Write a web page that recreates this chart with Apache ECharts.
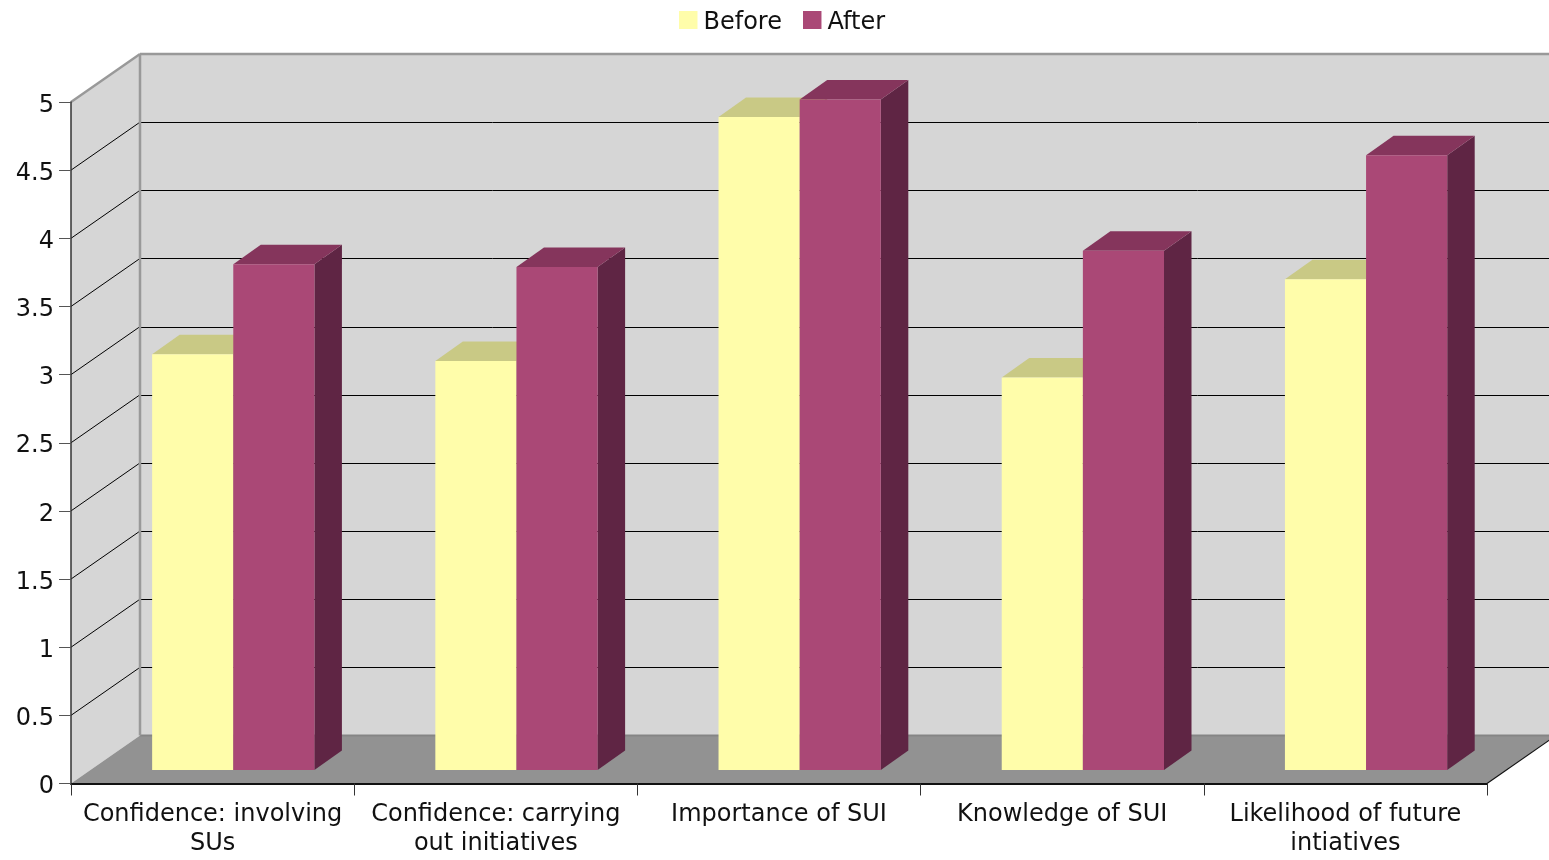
<!DOCTYPE html>
<html>
<head>
<meta charset="utf-8">
<style>html,body{margin:0;padding:0;background:#fff}#chart{width:1549px;height:860px}</style>
<script src="https://cdn.jsdelivr.net/npm/echarts@6/dist/echarts.min.js"></script>
</head>
<body>
<div id="chart"></div>
<script>
// Survey scores per topic, before and after the programme.
const categories = [
  'Confidence: involving\nSUs',
  'Confidence: carrying\nout initiatives',
  'Importance of SUI',
  'Knowledge of SUI',
  'Likelihood of future\nintiatives'
];
const before = [3.05, 3.0, 4.79, 2.88, 3.6];
const after = [3.71, 3.69, 4.92, 3.81, 4.51];
const yTicks = [0.5, 1, 1.5, 2, 2.5, 3, 3.5, 4, 4.5, 5];

// Oblique projection used for the pseudo-3D box and bars, in pixels.
const WALL_DX = 69, WALL_DY = 48;
const BAR_DX = 27.5, BAR_DY = 19.5;
const BAR_LIFT = 13.5;

const TEXT = '#111';
const FONT = '"DejaVu Sans", Verdana, sans-serif';
const FONT_SIZE = 24;

const chart = echarts.init(document.getElementById('chart'), null, {renderer: 'canvas'});

function poly(points, fill, stroke, lw) {
  return {
    type: 'polygon',
    shape: {points},
    style: {fill, stroke: stroke || null, lineWidth: lw || 0}
  };
}
function line(x1, y1, x2, y2, stroke, lw) {
  return {type: 'line', shape: {x1, y1, x2, y2}, style: {stroke, lineWidth: lw}};
}

// Back wall, side wall and floor of the box, placed through the axis scales.
function renderWalls(params, api) {
  const band = api.size([1, 0])[0];
  const lastIdx = categories.length - 1;
  const bottomLeft = api.coord([0, 0]);
  const topLeft = api.coord([0, 5]);
  const xL = bottomLeft[0] - band / 2;
  const xR = api.coord([lastIdx, 0])[0] + band / 2;
  const y0 = bottomLeft[1];
  const y5 = topLeft[1];
  const dx = WALL_DX, dy = WALL_DY;
  const children = [
    poly([[xL + dx, y5 - dy], [xR + dx, y5 - dy], [xR + dx, y0 - dy], [xL + dx, y0 - dy]], '#d6d6d6'),
    poly([[xL, y5], [xL + dx, y5 - dy], [xL + dx, y0 - dy], [xL, y0]], '#d6d6d6'),
    poly([[xL, y0], [xL + dx, y0 - dy], [xR + dx, y0 - dy], [xR, y0]], '#929292')
  ];
  yTicks.forEach(function (t) {
    if (t === 5) return;
    const y = api.coord([0, t])[1];
    const yBack = Math.round(y - dy) + 0.5;
    children.push(line(xL, y, xL + dx, y - dy, '#000', 1));
    children.push(line(xL + dx, yBack, xR + dx, yBack, '#000', 1));
  });
  children.push(line(xL + dx, y0 - dy, xR + dx, y0 - dy, '#858585', 2));
  children.push(line(xL + dx, y5 - dy, xL + dx, y0 - dy, '#999', 2.5));
  children.push(line(xL + dx, y5 - dy, xR + dx, y5 - dy, '#999', 2.5));
  children.push(line(xL, y5, xL + dx, y5 - dy, '#999', 2.5));
  children.push(line(xR, y0, xR + dx, y0 - dy, '#111', 1.2));
  return {type: 'group', children};
}

// One extruded bar: front face, top face and right side face.
function barRenderer(offsetFrac, colors) {
  return function (params, api) {
    const idx = api.value(0);
    const val = api.value(1);
    const band = api.size([1, 0])[0];
    const w = band * 0.2865;
    const c = api.coord([idx, val]);
    const base = api.coord([idx, 0])[1] - BAR_LIFT;
    const x = c[0] + band * offsetFrac;
    const y = c[1] - BAR_LIFT;
    return {
      type: 'group',
      children: [
        poly([[x + w, y], [x + w + BAR_DX, y - BAR_DY], [x + w + BAR_DX, base - BAR_DY], [x + w, base]], colors.side),
        poly([[x, y], [x + BAR_DX, y - BAR_DY], [x + w + BAR_DX, y - BAR_DY], [x + w, y]], colors.top),
        {type: 'rect', shape: {x, y, width: w, height: base - y}, style: {fill: colors.front}}
      ]
    };
  };
}

const beforeColors = {front: '#fffdaa', top: '#c9c985', side: '#a8a66e'};
const afterColors = {front: '#aa4876', top: '#85355c', side: '#5f2544'};

const option = {
  animation: false,
  textStyle: {fontFamily: FONT},
  legend: {
    left: 674,
    top: 6,
    itemWidth: 18.5,
    itemHeight: 18,
    itemGap: 21,
    icon: 'rect',
    data: ['Before', 'After'],
    selectedMode: false,
    formatter: function (name) { return '{t|' + name + '}'; },
    textStyle: {
      color: TEXT,
      fontSize: FONT_SIZE,
      fontFamily: FONT,
      rich: {t: {color: TEXT, fontSize: FONT_SIZE, fontFamily: FONT, padding: [6, 0, 0, 1]}}
    }
  },
  grid: {left: 71, right: 62, top: 102, bottom: 76.5, containLabel: false},
  xAxis: {
    type: 'category',
    data: categories,
    z: 5,
    boundaryGap: true,
    axisLine: {lineStyle: {color: '#111', width: 2}},
    axisTick: {show: true, alignWithLabel: false, length: 12, lineStyle: {color: '#333', width: 1}},
    axisLabel: {
      color: TEXT,
      fontSize: FONT_SIZE,
      fontFamily: FONT,
      lineHeight: 29,
      margin: 17,
      interval: 0
    },
    splitLine: {show: false}
  },
  yAxis: {
    type: 'value',
    min: 0,
    max: 5,
    interval: 0.5,
    z: 5,
    axisLine: {show: true, lineStyle: {color: '#333', width: 1.5}},
    axisTick: {show: true, length: 12, lineStyle: {color: '#555', width: 1}},
    axisLabel: {
      color: TEXT,
      fontSize: FONT_SIZE,
      fontFamily: FONT,
      margin: 17,
      formatter: '{v|{value}}',
      rich: {v: {color: TEXT, fontSize: FONT_SIZE, fontFamily: FONT, padding: [7, 0, 0, 0]}}
    },
    splitLine: {show: false}
  },
  series: [
    {
      type: 'custom',
      name: 'Box',
      silent: true,
      z: 1,
      renderItem: renderWalls,
      data: [[0, 0]],
      encode: {x: 0, y: 1}
    },
    {
      type: 'custom',
      name: 'Before',
      z: 2,
      itemStyle: {color: beforeColors.front},
      renderItem: barRenderer(-0.2135, beforeColors),
      data: before.map(function (v, i) { return [i, v]; }),
      encode: {x: 0, y: 1}
    },
    {
      type: 'custom',
      name: 'After',
      z: 3,
      itemStyle: {color: afterColors.front},
      renderItem: barRenderer(0.073, afterColors),
      data: after.map(function (v, i) { return [i, v]; }),
      encode: {x: 0, y: 1}
    }
  ]
};
chart.setOption(option);
</script>
</body>
</html>
